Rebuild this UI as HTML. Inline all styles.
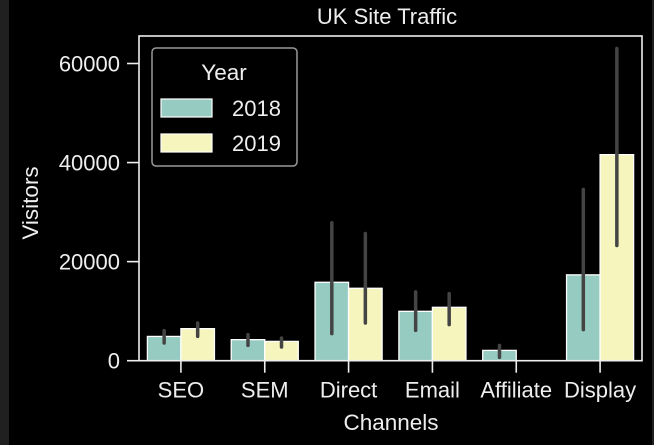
<!DOCTYPE html>
<html><head><meta charset="utf-8"><style>
html,body{margin:0;padding:0;background:#000;}
svg{display:block;font-family:"Liberation Sans",sans-serif;}
</style></head><body>
<svg id="chart" width="654" height="445">
<rect x="0" y="0" width="654" height="445" fill="#000"/>
<rect x="0" y="0" width="9" height="445" fill="#202020"/>
<rect x="652" y="0" width="2" height="445" fill="#202020"/>
<text x="387" y="24" text-anchor="middle" font-size="22" fill="#eee">UK Site Traffic</text>
<text transform="translate(38,203) rotate(-90)" text-anchor="middle" font-size="22.5" fill="#eee">Visitors</text>
<text x="391" y="430" text-anchor="middle" font-size="22.5" fill="#eee">Channels</text>
<g id="bars"></g>
<g id="axes"></g>
<g>
<rect x="152" y="48" width="145" height="118" rx="4" fill="#000" stroke="#999" stroke-width="1.5"/>
<text x="224" y="80" text-anchor="middle" font-size="22.5" fill="#eee">Year</text>
<rect x="161" y="99" width="51" height="18" fill="#96cbc2" stroke="#fff" stroke-width="1.2"/>
<text x="232" y="116" font-size="22" fill="#eee">2018</text>
<rect x="161" y="134" width="51" height="18" fill="#f5f5bd" stroke="#fff" stroke-width="1.2"/>
<text x="232" y="151" font-size="22" fill="#eee">2019</text>
</g>
</svg>
<script>
const categories = ["SEO","SEM","Direct","Email","Affiliate","Display"];
const values2018 = [4900, 4250, 15830, 9970, 2080, 17330];
const values2019 = [6470, 3900, 14620, 10780, 0, 41600];
const errLow2018 = [3580, 3100, 5460, 6130, 670, 6270];
const errHigh2018 = [6070, 5260, 27850, 13890, 3090, 34580];
const errLow2019 = [4910, 2770, 7620, 7280, 0, 23250];
const errHigh2019 = [7620, 4590, 25680, 13550, 0, 63030];
const yTicks = [0, 20000, 40000, 60000];

const L=139, R=642, T=36, B=360.7;
const yMax = 65550;
function y(v){ return B - v/yMax*(B-T); }
const band = (R-L)/categories.length;
function xc(i){ return L + band*(i+0.5); }
const bw = band*0.8/2;
const NS="http://www.w3.org/2000/svg";
const bars=document.getElementById('bars'), axes=document.getElementById('axes');
function mk(tag, attrs, parent){ const e=document.createElementNS(NS,tag); for(const k in attrs) e.setAttribute(k,attrs[k]); parent.appendChild(e); return e; }
const series=[[values2018,errLow2018,errHigh2018,"#96cbc2","2018",-1],[values2019,errLow2019,errHigh2019,"#f5f5bd","2019",0]];
series.forEach(s=>{
  categories.forEach((c,i)=>{
    const x0 = xc(i) + s[5]*bw;
    if(s[0][i]>0){
      const r=mk('rect',{x:x0,y:y(s[0][i]),width:bw,height:B-y(s[0][i]),fill:s[3],stroke:'#fff','stroke-width':1.3},bars);
      
      
    }
  });
});
series.forEach(s=>{
  categories.forEach((c,i)=>{
    if(s[2][i]>s[1][i]){
      const xm = xc(i) + s[5]*bw + bw/2;
      const l=mk('line',{x1:xm,x2:xm,y1:y(s[1][i]),y2:y(s[2][i]),stroke:'#444','stroke-width':3.5,'stroke-linecap':'round'},bars);
      
      
    }
  });
});
const frame=mk('rect',{x:L,y:T,width:R-L,height:B-T,fill:'none',stroke:'#eee','stroke-width':1.6},axes);


yTicks.forEach(v=>{
  const t=mk('line',{x1:L-12,x2:L,y1:y(v),y2:y(v),stroke:'#eee','stroke-width':1.6},axes);
  
  
  const tx=mk('text',{x:L-19,y:y(v)+8,'text-anchor':'end','font-size':22,fill:'#eee'},axes);
  tx.textContent=v;
  
  
});
categories.forEach((c,i)=>{
  const t=mk('line',{x1:xc(i),x2:xc(i),y1:B,y2:B+12,stroke:'#eee','stroke-width':1.6},axes);
  
  
  const tx=mk('text',{x:xc(i),y:B+37,'text-anchor':'middle','font-size':22,fill:'#eee'},axes);
  tx.textContent=c;
  
  
});
</script>
</body></html>
